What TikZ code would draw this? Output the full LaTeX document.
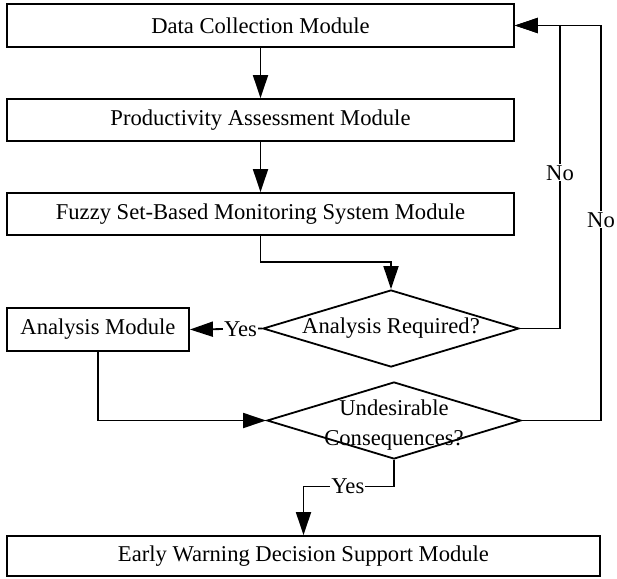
\documentclass[tikz,border=0pt]{standalone}
\usepackage{fontspec}
\setmainfont{Liberation Serif}
\usetikzlibrary{shapes.geometric,arrows.meta}
\begin{document}
\begin{tikzpicture}[x=1pt,y=-1pt,
  every node/.style={font=\fontsize{22.6}{30}\selectfont},
  box/.style={draw, line width=1.8pt, rectangle, inner sep=0pt},
  dia/.style={draw, line width=1.8pt, diamond, inner sep=0pt},
  arr/.style={line width=1.8pt, -{Triangle[length=23pt,width=15pt]}},
  lbl/.style={fill=white, inner sep=1pt},
  txt/.style={align=center}
]
\useasboundingbox (0,0) rectangle (617,578);
\node[box, minimum width=507pt, minimum height=43pt] (data) at (260.5,25.5) {Data Collection Module};
\node[box, minimum width=507pt, minimum height=42pt] (prod) at (260.5,120) {Productivity Assessment Module};
\node[box, minimum width=507pt, minimum height=42pt] (fuzzy) at (260.5,214) {Fuzzy Set-Based Monitoring System Module};
\node[box, minimum width=182pt, minimum height=43pt] (am) at (98,329.5) {Analysis Module};
\node[dia, minimum width=256pt, minimum height=77pt] (d1) at (391,328.5) {};
\node[txt] (t1) at (d1.center) {Analysis Required?};
\node[dia, minimum width=254pt, minimum height=77pt] (d2) at (394,420.5) {};
\node[txt] (t2) at (394,425) {Undesirable\\Consequences?};
\node[box, minimum width=593pt, minimum height=40pt] (early) at (303.5,556) {Early Warning Decision Support Module};
\coordinate (c1) at (560,328.5);
\coordinate (c2) at (601,420.5);

\draw[arr] (data.south) -- (prod.north);
\draw[arr] (prod.south) -- (fuzzy.north);
\draw[arr] (fuzzy.south) -- ++(0,26) -| (d1.north);
\draw[arr] (d1.west) -- node[lbl, pos=0.3] {Yes} (am.east);
\draw[arr] (d1.east) -- (c1) |- node[lbl, pos=0.257] {No} (data.east);
\draw[arr] (d2.east) -- (c2) |- node[lbl, pos=0.254] {No} (data.east);
\draw[arr] (am.south) |- (d2.west);
\draw[arr] (d2.south) -- ++(0,26.5) -| node[lbl, pos=0.255] {Yes} (early.north);
\end{tikzpicture}
\end{document}
